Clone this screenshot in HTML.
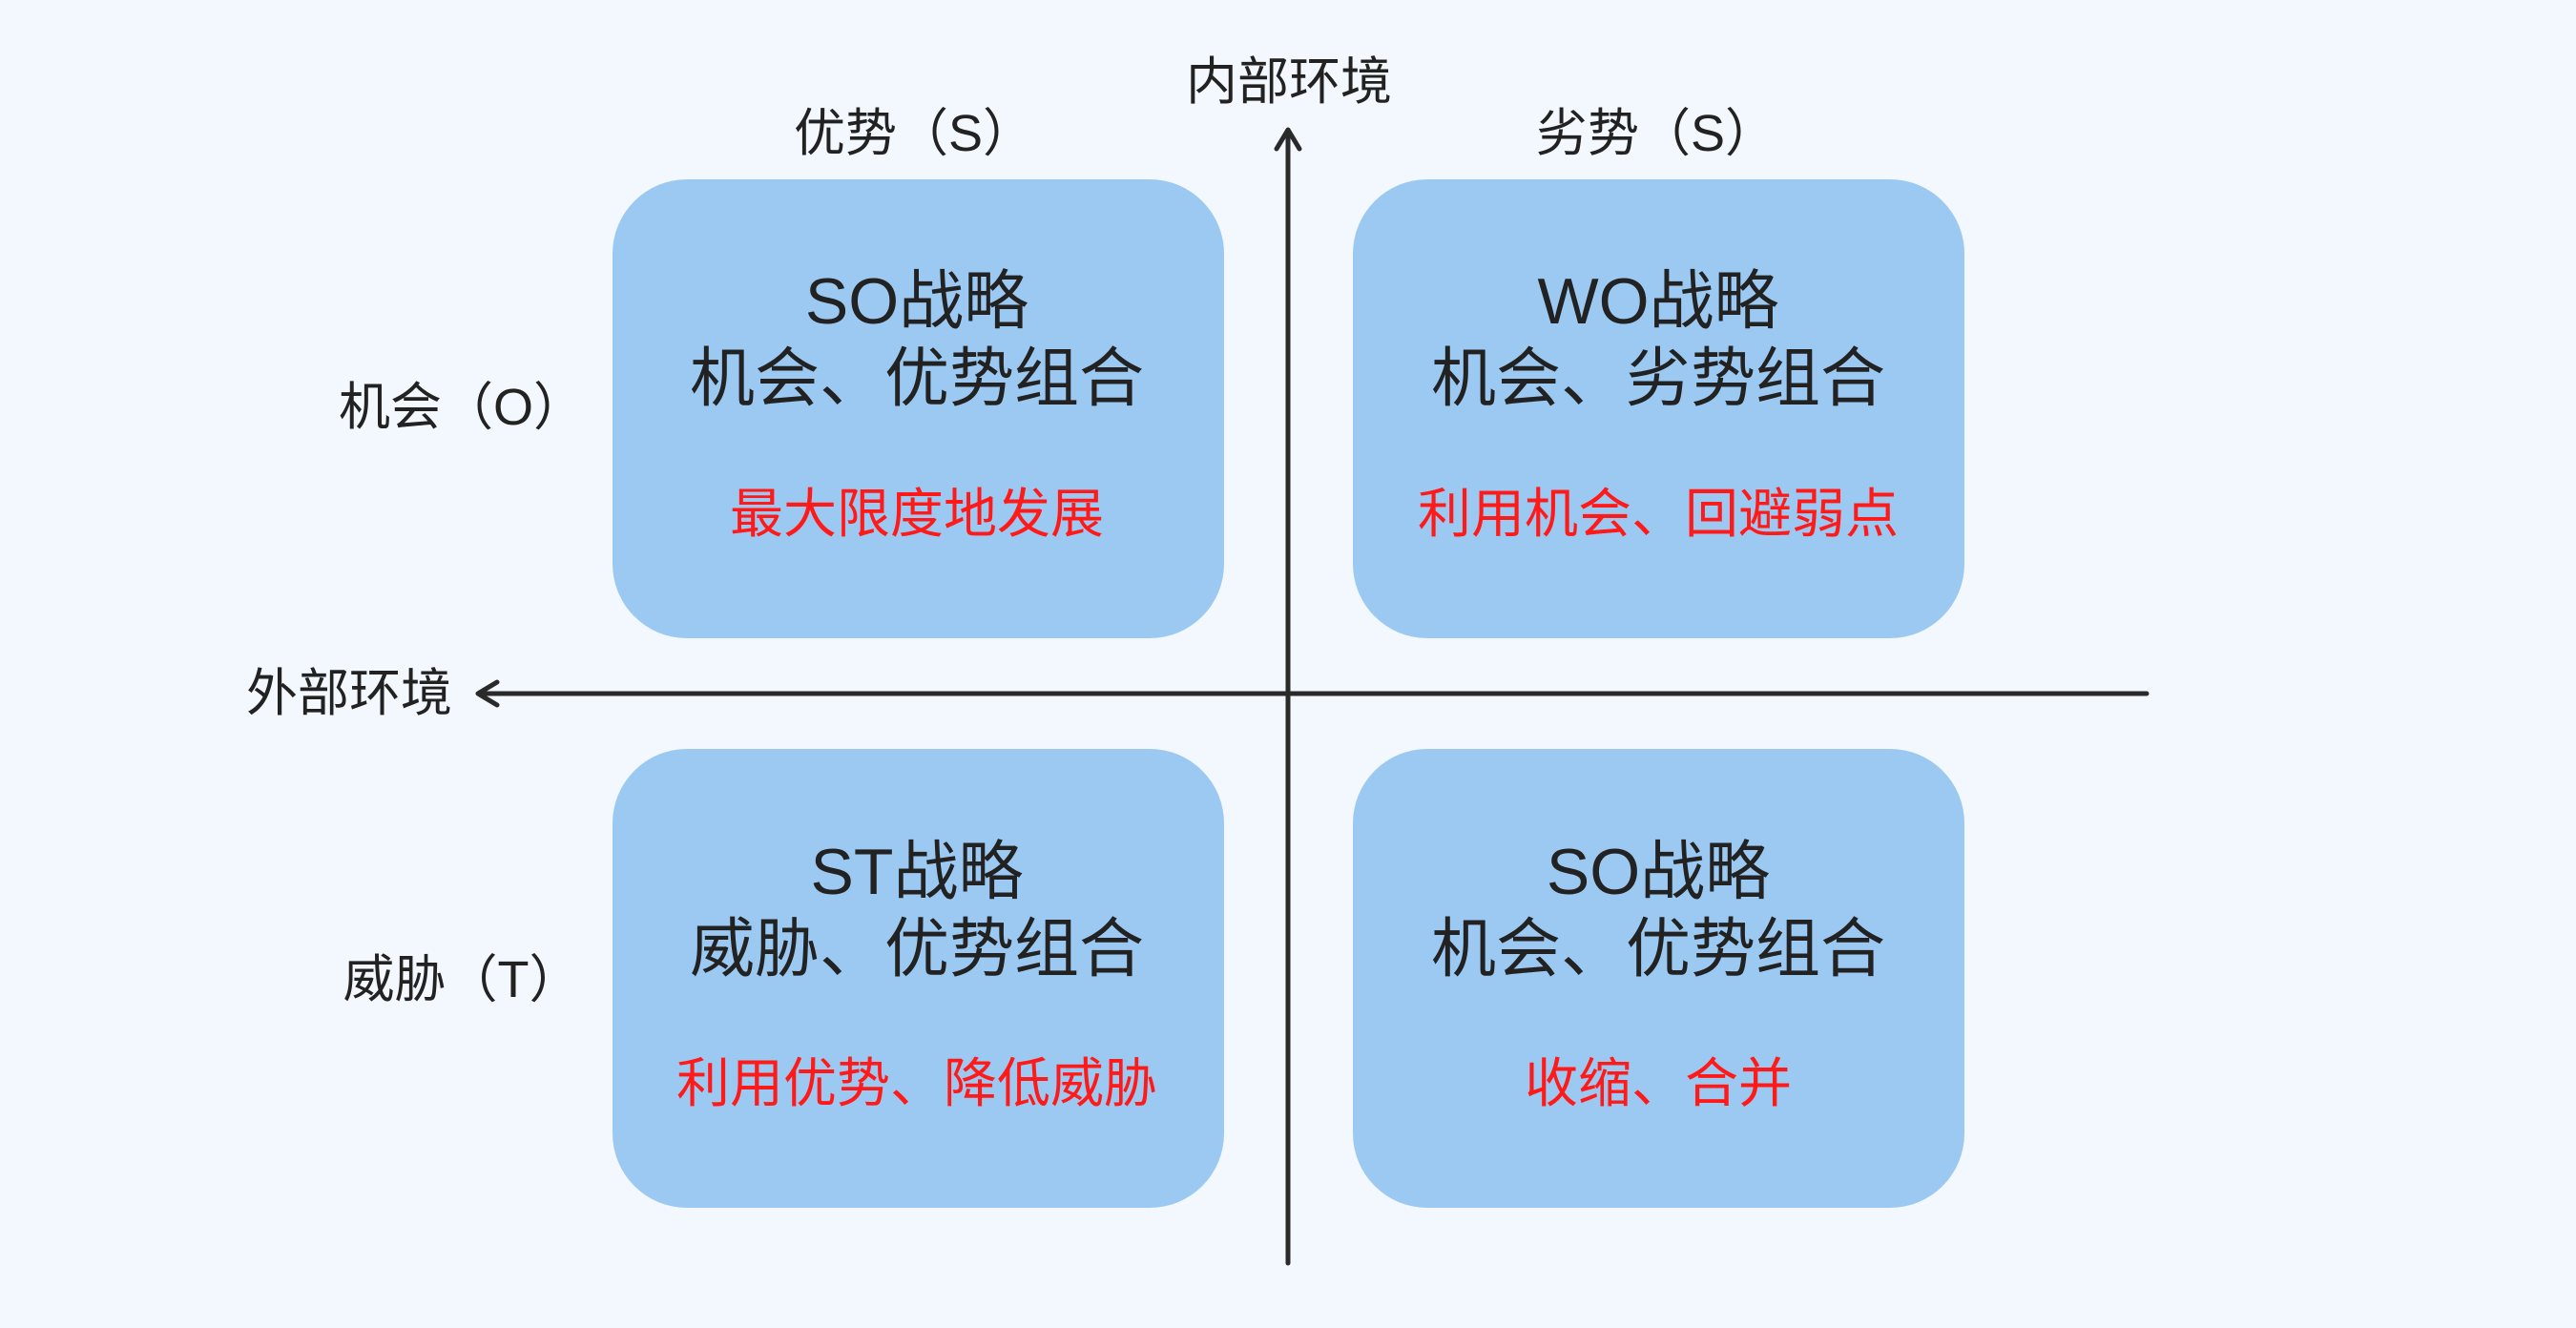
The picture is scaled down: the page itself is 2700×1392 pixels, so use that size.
<!DOCTYPE html>
<html><head><meta charset="utf-8"><style>
html,body{margin:0;padding:0}
body{width:2700px;height:1392px;background:#f3f8fe;position:relative;overflow:hidden;font-family:"Liberation Sans","Noto Sans CJK SC",sans-serif;color:#222}
.box{position:absolute;width:641px;height:481px;background:#9cc9f2;border-radius:78px}
.t{position:absolute;white-space:nowrap;transform:translate(-50%,-50%);line-height:1}
.big{font-size:68px}
.red{font-size:56px;color:#ff1a1a}
.lab{font-size:54px}
</style></head><body>
<div class="box" style="left:642px;top:188px"></div>
<div class="box" style="left:1418px;top:188px"></div>
<div class="box" style="left:642px;top:785px"></div>
<div class="box" style="left:1418px;top:785px"></div>
<svg width="2700" height="1392" style="position:absolute;left:0;top:0">
<g stroke="#2a2a2a" stroke-width="5" fill="none" stroke-linecap="round" stroke-linejoin="round">
<line x1="1350" y1="138" x2="1350" y2="1324"/>
<polyline points="1338,156 1350,136 1362,156"/>
<line x1="503" y1="727" x2="2250" y2="727"/>
<polyline points="521,715 501,727 521,739"/>
</g></svg>
<div class="t lab" style="left:1351px;top:86px">内部环境</div>
<div class="t lab" style="left:366px;top:727px">外部环境</div>
<div class="t lab" style="left:958px;top:140px">优势（S）</div>
<div class="t lab" style="left:1736px;top:140px">劣势（S）</div>
<div class="t lab" style="left:484px;top:427px">机会（O）</div>
<div class="t lab" style="left:484px;top:1027px">威胁（T）</div>

<div class="t big" style="left:961px;top:316px">SO战略</div>
<div class="t big" style="left:961px;top:397px">机会、优势组合</div>
<div class="t red" style="left:961px;top:539px">最大限度地发展</div>

<div class="t big" style="left:1738px;top:316px">WO战略</div>
<div class="t big" style="left:1738px;top:397px">机会、劣势组合</div>
<div class="t red" style="left:1738px;top:539px">利用机会、回避弱点</div>

<div class="t big" style="left:961px;top:914px">ST战略</div>
<div class="t big" style="left:961px;top:995px">威胁、优势组合</div>
<div class="t red" style="left:961px;top:1136px">利用优势、降低威胁</div>

<div class="t big" style="left:1738px;top:914px">SO战略</div>
<div class="t big" style="left:1738px;top:995px">机会、优势组合</div>
<div class="t red" style="left:1738px;top:1136px">收缩、合并</div>
</body></html>
